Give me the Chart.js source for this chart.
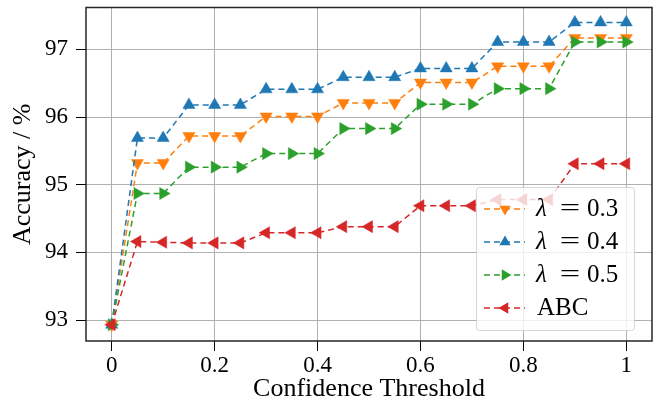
<!DOCTYPE html>
<html>
<head>
<meta charset="UTF-8">
<title>Accuracy vs confidence threshold</title>
<style>
  body { margin: 0; background: #fff; }
</style>
</head>
<body>
<canvas id="acc" width="660" height="403"></canvas>

<script src="https://cdn.jsdelivr.net/npm/chart.js@4/dist/chart.umd.min.js"></script>

<script>
  // confidence thresholds
  var thresholds = [0, 0.05, 0.1, 0.15, 0.2, 0.25, 0.3, 0.35, 0.4, 0.45, 0.5,
                    0.55, 0.6, 0.65, 0.7, 0.75, 0.8, 0.85, 0.9, 0.95, 1];

  var lambda03 = [92.93, 95.32, 95.32, 95.72, 95.72, 95.72, 96.01, 96.01, 96.01, 96.21, 96.21,
                  96.21, 96.51, 96.51, 96.51, 96.75, 96.75, 96.75, 97.17, 97.17, 97.17];
  var lambda04 = [92.93, 95.69, 95.69, 96.18, 96.18, 96.18, 96.41, 96.41, 96.41, 96.59, 96.59,
                  96.59, 96.72, 96.72, 96.72, 97.11, 97.11, 97.11, 97.40, 97.40, 97.40];
  var lambda05 = [92.93, 94.87, 94.87, 95.26, 95.26, 95.26, 95.46, 95.46, 95.46, 95.83, 95.83,
                  95.83, 96.19, 96.19, 96.19, 96.42, 96.42, 96.42, 97.11, 97.11, 97.11];
  var abc      = [92.93, 94.16, 94.15, 94.14, 94.14, 94.14, 94.29, 94.29, 94.29, 94.38, 94.38,
                  94.38, 94.69, 94.69, 94.69, 94.78, 94.78, 94.78, 95.31, 95.31, 95.31];

  var seriesNames = ['\u03bb = 0.3', '\u03bb = 0.4', '\u03bb = 0.5', 'ABC'];
  var xTicks = [0, 0.2, 0.4, 0.6, 0.8, 1];
  var yTicks = [93, 94, 95, 96, 97];

  var colors = ['#ff7f0e', '#1f77b4', '#2ca02c', '#d62728'];
  var rotations = [180, 0, 90, 270];
  var serif = "'Liberation Serif', 'DejaVu Serif', serif";

  var toPoints = function(values) {
    return values.map(function(v, i) { return { x: thresholds[i], y: v }; });
  };

  var allSeries = [lambda03, lambda04, lambda05, abc];
  var datasets = allSeries.map(function(values, i) {
    return {
      label: seriesNames[i],
      data: toPoints(values),
      borderColor: colors[i],
      backgroundColor: colors[i],
      borderWidth: 1.5,
      borderDash: [6, 4],
      pointStyle: 'triangle',
      pointRotation: rotations[i],
      pointRadius: 7,
      pointBorderWidth: 0.5,
      pointHoverRadius: 7,
      fill: false,
      tension: 0,
      order: 4 - i
    };
  });

  var drawTri = function(ctx, x, y, r, deg) {
    var rad = deg * Math.PI / 180;
    ctx.beginPath();
    for (var k = 0; k < 3; k++) {
      var a = rad + k * 2 * Math.PI / 3;
      var px = x + Math.sin(a) * r, py = y - Math.cos(a) * r;
      if (k == 0) ctx.moveTo(px, py); else ctx.lineTo(px, py);
    }
    ctx.closePath();
    ctx.fill();
  };

  // frame + legend inside the plot, lower right
  var framePlugin = {
    id: 'frameAndLegend',
    afterDraw: function(chart) {
      var ctx = chart.ctx;
      var a = chart.chartArea;
      ctx.save();
      ctx.strokeStyle = '#262626';
      ctx.lineWidth = 1.5;
      ctx.strokeRect(a.left, a.top, a.right - a.left, a.bottom - a.top);

      var bx = 476, by = 187, bw = 158, bh = 143;
      ctx.fillStyle = 'rgba(255,255,255,0.8)';
      ctx.strokeStyle = 'rgba(204,204,204,0.8)';
      ctx.lineWidth = 1;
      ctx.beginPath();
      ctx.roundRect(bx + 0.5, by + 0.5, bw, bh, 3);
      ctx.fill();
      ctx.stroke();

      ctx.textBaseline = 'middle';
      for (var i = 0; i < seriesNames.length; i++) {
        var ry = 209 + i * 33;
        ctx.strokeStyle = colors[i];
        ctx.lineWidth = 1.5;
        ctx.setLineDash([6, 4]);
        ctx.beginPath();
        ctx.moveTo(484, ry);
        ctx.lineTo(525, ry);
        ctx.stroke();
        ctx.setLineDash([]);
        ctx.fillStyle = colors[i];
        drawTri(ctx, 505, ry, 6.5, rotations[i]);
        ctx.fillStyle = '#000';
        ctx.textAlign = 'left';
        if (i < 3) {
          ctx.font = 'italic 25px ' + serif;
          ctx.fillText('\u03bb', 536, ry);
          ctx.font = '25px ' + serif;
          ctx.save();
          ctx.translate(570, ry);
          ctx.scale(1.45, 1);
          ctx.textAlign = 'center';
          ctx.fillText('=', 0, 0);
          ctx.restore();
          ctx.fillText(seriesNames[i].split('= ')[1], 587, ry);
        } else {
          ctx.font = '25px ' + serif;
          ctx.fillText(seriesNames[i], 537, ry);
        }
      }
      ctx.restore();
    }
  };

  var chart = new Chart(document.getElementById('acc'), {
    type: 'line',
    data: { datasets: datasets },
    plugins: [framePlugin],
    options: {
      responsive: false,
      devicePixelRatio: 1,
      animation: false,
      layout: { padding: { top: 6, right: 8, left: 0, bottom: 0 } },
      plugins: {
        legend: { display: false },
        tooltip: { enabled: false }
      },
      scales: {
        x: {
          type: 'linear',
          min: -0.05,
          max: 1.05,
          afterBuildTicks: function(scale) {
            scale.ticks = xTicks.map(function(v) { return { value: v }; });
          },
          afterFit: function(scale) {
            scale.height = 62;
            scale.paddingLeft = 0;
            scale.paddingRight = 0;
          },
          ticks: {
            color: '#000',
            font: { family: serif, size: 23 },
            padding: 1,
            maxRotation: 0,
            callback: function(v) { return String(Math.round(v * 10) / 10); }
          },
          grid: { color: '#b0b0b0', lineWidth: 1, tickColor: '#000', tickLength: 10 },
          border: { display: false },
          title: {
            display: true,
            text: 'Confidence Threshold',
            color: '#000',
            font: { family: serif, size: 26 },
            padding: { top: 0, bottom: -2 }
          }
        },
        y: {
          min: 92.69,
          max: 97.62,
          afterBuildTicks: function(scale) {
            scale.ticks = yTicks.map(function(v) { return { value: v }; });
          },
          afterFit: function(scale) {
            scale.width = 86;
            scale.paddingTop = 0;
            scale.paddingBottom = 0;
          },
          ticks: {
            color: '#000',
            font: { family: serif, size: 23 },
            padding: 8,
            callback: function(v) { return String(v); }
          },
          grid: { color: '#b0b0b0', lineWidth: 1, tickColor: '#000', tickLength: 10 },
          border: { display: false },
          title: {
            display: true,
            text: 'Accuracy / %',
            color: '#000',
            font: { family: serif, size: 26 },
            padding: { top: 8, bottom: 0 }
          }
        }
      }
    }
  });
</script>
</body>
</html>
